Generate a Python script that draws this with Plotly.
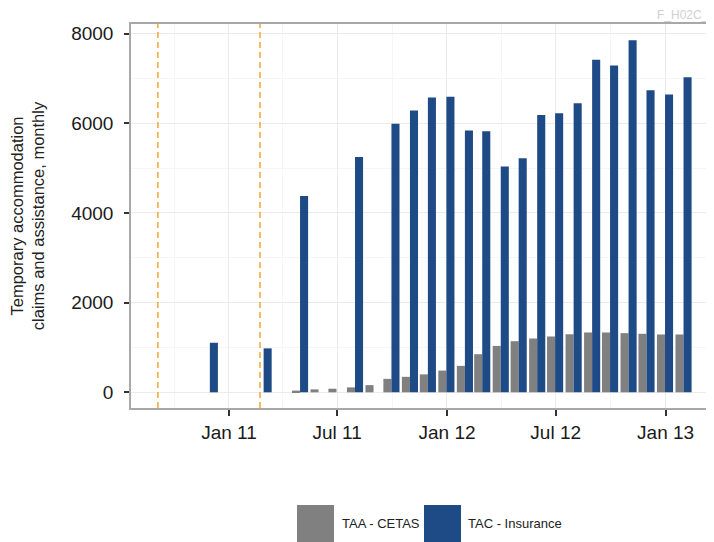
import pandas as pd
import plotly.graph_objects as go

# ---- data ----
months = ["2010-11", "2010-12", "2011-01", "2011-02", "2011-03", "2011-04", "2011-05",
          "2011-06", "2011-07", "2011-08", "2011-09", "2011-10", "2011-11", "2011-12",
          "2012-01", "2012-02", "2012-03", "2012-04", "2012-05", "2012-06", "2012-07",
          "2012-08", "2012-09", "2012-10", "2012-11", "2012-12", "2013-01"]
taa_cetas = [None, None, None, None, None, 38, 65,
             80, 110, 160, 300, 345, 400, 485,
             590, 850, 1035, 1140, 1200, 1245, 1295,
             1335, 1335, 1320, 1305, 1290, 1290]
tac_insurance = [1105, None, None, 980, None, 4380, None,
                 None, 5250, None, 5990, 6285, 6575, 6590,
                 5840, 5825, 5035, 5220, 6185, 6225, 6450,
                 7420, 7290, 7850, 6735, 6640, 7025]
series_names = ["TAA - CETAS", "TAC - Insurance"]
event_dates = ["2010-09-04", "2011-02-22"]
y_ticks = [0, 2000, 4000, 6000, 8000]
x_ticks = ["2011-01-01", "2011-07-01", "2012-01-01", "2012-07-01", "2013-01-01"]
x_tick_labels = ["Jan 11", "Jul 11", "Jan 12", "Jul 12", "Jan 13"]

# ---- styles ----
GREY = "#808080"
BLUE = "#1e4a85"
FONT = "Liberation Sans, Arial, sans-serif"
DAY_MS = 86400000
bar_w = 13.5 * DAY_MS
PAGE_OFF = 8  # default body margin of the html page

dates = pd.to_datetime(months) + pd.offsets.MonthEnd(0)

fig = go.Figure()
fig.add_trace(go.Bar(x=dates, y=taa_cetas, name=series_names[0], marker_color=GREY,
                     marker_line_width=0, width=bar_w, offset=-bar_w, showlegend=False))
fig.add_trace(go.Bar(x=dates, y=tac_insurance, name=series_names[1], marker_color=BLUE,
                     marker_line_width=0, width=bar_w, offset=0, showlegend=False))

for d in event_dates:
    fig.add_shape(type="line", x0=d, x1=d, xref="x", y0=0, y1=1, yref="paper",
                  line=dict(color="#f2ac3c", width=1.6, dash="6px,4px"), layer="above")

# manual legend (large keys like the reference); positions in page pixels
L, W, T, H = 131, 583, 24, 384
def px(x):
    return (x - L) / W
def py(y):
    return (T + H - y) / H

legend_items = [(series_names[0], GREY, 297, 340), (series_names[1], BLUE, 424, 466)]
for name, col, x0, tx in legend_items:
    fig.add_shape(type="rect", xref="paper", yref="paper", x0=px(x0), x1=px(x0 + 37),
                  y0=py(505), y1=py(560), fillcolor=col, line=dict(width=0))
    fig.add_annotation(text=name, xref="paper", yref="paper", x=px(tx), y=py(523),
                       xanchor="left", yanchor="middle", showarrow=False,
                       font=dict(family=FONT, size=13, color="#222222"))

fig.add_annotation(text="F_H02C_1", xref="paper", yref="paper", x=px(655), y=py(14.5),
                   xanchor="left", yanchor="middle", showarrow=False,
                   font=dict(family=FONT, size=12, color="#cfcfcf"))

fig.update_layout(
    width=714 - PAGE_OFF, height=542 - PAGE_OFF,
    margin=dict(l=131 - PAGE_OFF, r=0, t=24 - PAGE_OFF, b=134, autoexpand=False),
    paper_bgcolor="white", plot_bgcolor="white",
    barmode="overlay",
    font=dict(family=FONT, color="#222222"),
    showlegend=False,
)
fig.update_xaxes(
    type="date", range=["2010-07-21", "2013-03-23"],
    tickvals=x_ticks, ticktext=x_tick_labels,
    tickfont=dict(size=19, color="#1a1a1a"),
    ticks="outside", ticklen=6, tickwidth=1.5, tickcolor="#333333",
    showline=True, linecolor="#a8a8a8", linewidth=2, mirror=True,
    showgrid=True, gridcolor="#ebebeb", gridwidth=1,
    minor=dict(showgrid=True, gridcolor="#f6f6f6", dtick="M3", tick0="2011-01-01"),
    zeroline=False,
)
fig.update_yaxes(
    range=[-350, 8215],
    tickvals=y_ticks,
    tickfont=dict(size=19, color="#1a1a1a"),
    ticks="outside", ticklen=5, tickwidth=1.5, tickcolor="#333333",
    ticklabelstandoff=7,
    showline=True, linecolor="#a8a8a8", linewidth=1.5,
    showgrid=True, gridcolor="#ebebeb", gridwidth=1,
    minor=dict(showgrid=True, gridcolor="#f6f6f6", dtick=1000, tick0=0),
    zeroline=False,
    title=dict(text="Temporary accommodation<br>claims and assistance, monthly",
               font=dict(family=FONT, size=16.5, color="#222222"), standoff=24),
)

fig.write_html("out.html")
